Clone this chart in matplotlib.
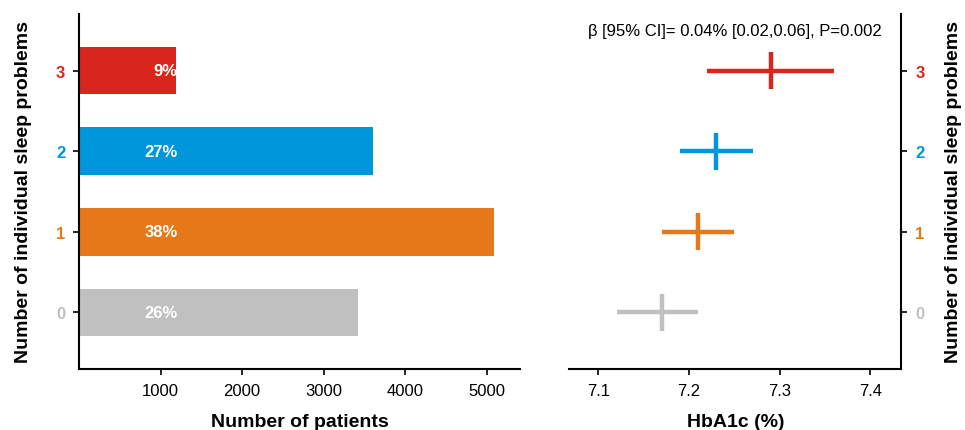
import matplotlib
matplotlib.use("Agg")
import matplotlib.pyplot as plt
import numpy as np

plt.rcParams['font.family'] = ['Liberation Sans', 'DejaVu Sans']

# categories: number of individual sleep problems
groups = [0, 1, 2, 3]
colors = ['#C0C0C0', '#E6781A', '#0096DC', '#D9261C']

# left panel: number of patients
n_patients = [3420, 5090, 3610, 1190]
pct_labels = ['26%', '38%', '27%', '9%']

# right panel: HbA1c mean and 95% CI
hba1c = [7.17, 7.21, 7.23, 7.29]
ci_low = [7.12, 7.17, 7.19, 7.22]
ci_high = [7.21, 7.25, 7.27, 7.36]
annot = 'β [95% CI]= 0.04% [0.02,0.06], P=0.002'

fig = plt.figure(figsize=(9.65, 4.31), dpi=100)
ax1 = fig.add_axes([0.082, 0.142, 0.457, 0.823])
ax2 = fig.add_axes([0.590, 0.142, 0.344, 0.823])

# bars
ax1.barh(groups, n_patients, height=0.59, color=colors)
for g, v, lab in zip(groups, n_patients, pct_labels):
    ax1.text(1210, g, lab, ha='right', va='center', color='white',
             fontsize=12, fontweight='bold')
ax1.set_xlim(0, 5410)
ax1.set_ylim(-0.7, 3.7)
ax1.set_xticks([1000, 2000, 3000, 4000, 5000])
ax1.set_yticks(groups)
ax1.set_yticklabels([str(g) for g in groups], fontweight='bold')
for lab, c in zip(ax1.get_yticklabels(), colors):
    lab.set_color(c)
ax1.spines['top'].set_visible(False)
ax1.spines['right'].set_visible(False)
ax1.set_xlabel('Number of patients', fontsize=14, fontweight='bold', labelpad=11)
ax1.set_ylabel('Number of individual sleep problems', fontsize=14,
               fontweight='bold', labelpad=17)

# forest-style crosses
for g, m, lo, hi, c in zip(groups, hba1c, ci_low, ci_high, colors):
    ax2.plot([lo, hi], [g, g], color=c, lw=3.2, solid_capstyle='butt')
    ax2.plot([m, m], [g - 0.23, g + 0.23], color=c, lw=3.2, solid_capstyle='butt')
ax2.set_xlim(7.068, 7.434)
ax2.set_ylim(-0.7, 3.7)
ax2.set_xticks([7.1, 7.2, 7.3, 7.4])
ax2.set_yticks(groups)
ax2.yaxis.tick_right()
ax2.yaxis.set_label_position('right')
ax2.set_yticklabels([str(g) for g in groups], fontweight='bold')
for lab, c in zip(ax2.get_yticklabels(), colors):
    lab.set_color(c)
ax2.spines['top'].set_visible(False)
ax2.spines['left'].set_visible(False)
ax2.set_xlabel('HbA1c (%)', fontsize=14, fontweight='bold', labelpad=11)
ax2.set_ylabel('Number of individual sleep problems', fontsize=14,
               fontweight='bold', labelpad=15)
ax2.text(0.5, 0.955, annot, transform=ax2.transAxes, ha='center', va='center',
         fontsize=12)

for ax in (ax1, ax2):
    ax.tick_params(labelsize=12, length=4, width=1.2, pad=6)
    for s in ax.spines.values():
        s.set_linewidth(1.5)

fig.savefig('out.png', dpi=100)
